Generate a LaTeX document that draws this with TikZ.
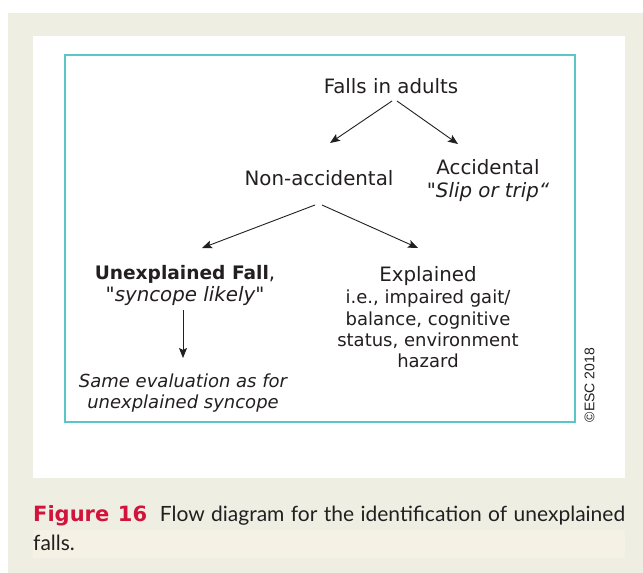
\documentclass[tikz,border=0pt]{standalone}
\usepackage{fontspec}
\setmainfont{DejaVu Sans}
\newfontfamily\capfont{Lato}
\newfontfamily\figfont{DejaVu Sans}
\newfontfamily\escfont{Liberation Sans}
\usetikzlibrary{arrows.meta,calc}
\definecolor{beige}{HTML}{EFEEE3}
\definecolor{capband}{HTML}{F5F2E5}
\definecolor{tealc}{HTML}{5CC6C6}
\definecolor{ink}{HTML}{231F20}
\definecolor{figred}{HTML}{D2143C}
\tikzset{
  lbl/.style={text=ink, anchor=base, inner sep=0pt, font=\fontsize{19.8}{22}\selectfont},
  sublbl/.style={text=ink, anchor=base, inner sep=0pt, font=\fontsize{18}{21}\selectfont},
  arr/.style={draw=ink, line width=0.9pt, -{Stealth[length=10pt,width=8pt,inset=2pt]}}
}
\begin{document}
\begin{tikzpicture}[x=1pt,y=-1pt]
\useasboundingbox (0,0) rectangle (643,573);
\fill[white] (0,0) rectangle (643,573);
\fill[beige] (8,13) rectangle (643,573);
\fill[white] (33,36) rectangle (625,478);
\fill[capband] (33,530) rectangle (625,558);
\draw[tealc, line width=2pt] (65,55) rectangle (575,422);

\node[lbl] (falls) at (391,93) {Falls in adults};
\node[lbl] (nonacc) at (319,185) {Non-accidental};
\node[lbl] (acc) at (488,174) {Accidental};
\node[lbl, font=\itshape\fontsize{19.8}{22}\selectfont] (slip) at (488,197) {\textquotedbl Slip or trip“};
\node[lbl] (unexp) at (185,279) {\textbf{\fontsize{18.6}{22}\selectfont Unexplained Fall},};
\node[lbl, font=\itshape\fontsize{19.8}{22}\selectfont] (likely) at (185,301) {\textquotedbl syncope likely\textquotedbl};
\node[lbl] (exp) at (428,281) {Explained};
\node[sublbl] (exp1) at (428,303) {i.e., impaired gait/};
\node[sublbl] (exp2) at (428,325) {balance, cognitive};
\node[sublbl] (exp3) at (428,346) {status, environment};
\node[sublbl] (exp4) at (428,367) {hazard};
\node[sublbl, font=\itshape\fontsize{18}{21}\selectfont] (same1) at (183,387) {Same evaluation as for};
\node[sublbl, font=\itshape\fontsize{18}{21}\selectfont] (same2) at (183,408) {unexplained syncope};
\node[text=ink, rotate=90, inner sep=0pt, font=\escfont\fontsize{14}{16}\selectfont] (esc) at (589.5,385) {\textcopyright ESC 2018};

\coordinate (f1) at (392,101);
\coordinate (f2) at (397,101);
\coordinate (n1) at (315,205);
\coordinate (n2) at (322,205);
\coordinate (u1) at (183,310);
\coordinate (a1) at (330,143);
\coordinate (a2) at (458,144);
\coordinate (a3) at (202,248);
\coordinate (a4) at (418,248);
\coordinate (a5) at (183,358);
\draw[arr] (f1) -- (a1);
\draw[arr] (f2) -- (a2);
\draw[arr] (n1) -- (a3);
\draw[arr] (n2) -- (a4);
\draw[arr] (u1) -- (a5);

\node[anchor=base west, inner sep=0pt, text width=592pt, align=justify,
  font=\capfont\fontsize{21}{29}\selectfont, text=ink] (cap) at (33,521)
  {{\color{figred}\figfont\bfseries Figure 16}\hspace{0.3em} Flow diagram for the identification of unexplained\linebreak falls.};
\end{tikzpicture}
\end{document}
